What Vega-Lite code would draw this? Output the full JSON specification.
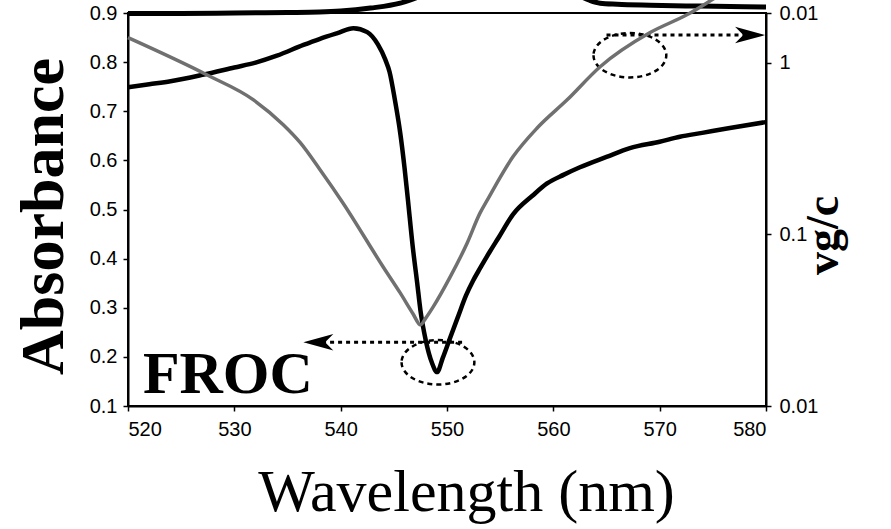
{
  "$schema": "https://vega.github.io/schema/vega-lite/v6.json",
  "width": 638,
  "height": 393,
  "autosize": {"type": "none"},
  "padding": {"left": 128, "top": 13, "right": 125, "bottom": 123},
  "background": "white",
  "config": {
    "view": {"stroke": "black", "strokeWidth": 2},
    "axis": {
      "domainColor": "black", "domainWidth": 2, "tickColor": "black", "tickWidth": 1.5, "tickSize": 5,
      "labelFont": "Liberation Sans", "labelFontSize": 20, "labelColor": "black",
      "titleFont": "Liberation Serif", "titleColor": "black", "grid": false
    }
  },
  "datasets": {
    "froc": [
      {"lam": 520, "abs": 0.749}, {"lam": 522, "abs": 0.755}, {"lam": 524, "abs": 0.761}, {"lam": 527, "abs": 0.774},
      {"lam": 530, "abs": 0.789}, {"lam": 532, "abs": 0.799}, {"lam": 534, "abs": 0.813}, {"lam": 536.5, "abs": 0.835},
      {"lam": 538, "abs": 0.847}, {"lam": 539.7, "abs": 0.859}, {"lam": 541.2, "abs": 0.869}, {"lam": 542.5, "abs": 0.861},
      {"lam": 543.5, "abs": 0.836}, {"lam": 544.2, "abs": 0.805}, {"lam": 544.6, "abs": 0.78}, {"lam": 545.1, "abs": 0.723},
      {"lam": 545.6, "abs": 0.656}, {"lam": 546.0, "abs": 0.586}, {"lam": 546.3, "abs": 0.525}, {"lam": 546.8, "abs": 0.42},
      {"lam": 547.2, "abs": 0.35}, {"lam": 547.5, "abs": 0.295}, {"lam": 548.0, "abs": 0.234}, {"lam": 548.6, "abs": 0.187},
      {"lam": 549.06, "abs": 0.169}, {"lam": 549.62, "abs": 0.199}, {"lam": 550.28, "abs": 0.238}, {"lam": 551.04, "abs": 0.282},
      {"lam": 551.79, "abs": 0.325}, {"lam": 552.45, "abs": 0.355}, {"lam": 553.1, "abs": 0.38}, {"lam": 554.05, "abs": 0.415},
      {"lam": 554.8, "abs": 0.441}, {"lam": 556.21, "abs": 0.49}, {"lam": 558.09, "abs": 0.529}, {"lam": 559.41, "abs": 0.553},
      {"lam": 561, "abs": 0.571}, {"lam": 562.5, "abs": 0.586}, {"lam": 565, "abs": 0.607}, {"lam": 567.2, "abs": 0.625},
      {"lam": 570, "abs": 0.638}, {"lam": 571.9, "abs": 0.648}, {"lam": 574, "abs": 0.656}, {"lam": 576.6, "abs": 0.666},
      {"lam": 580, "abs": 0.678}
    ],
    "top": [
      {"lam": 520, "abs": 0.899}, {"lam": 525, "abs": 0.899}, {"lam": 530, "abs": 0.9}, {"lam": 535, "abs": 0.901},
      {"lam": 538, "abs": 0.902}, {"lam": 540, "abs": 0.904}, {"lam": 542.8, "abs": 0.91}, {"lam": 545.6, "abs": 0.92},
      {"lam": 546.5, "abs": 0.926}, {"lam": 548, "abs": 0.94}, {"lam": 550, "abs": 0.97}, {"lam": 553, "abs": 1.0},
      {"lam": 556, "abs": 1.0}, {"lam": 559, "abs": 0.97}, {"lam": 562, "abs": 0.94}, {"lam": 563.4, "abs": 0.926},
      {"lam": 564.4, "abs": 0.92}, {"lam": 566, "abs": 0.918}, {"lam": 569.1, "abs": 0.916}, {"lam": 573.8, "abs": 0.914},
      {"lam": 580, "abs": 0.912}
    ],
    "vg": [
      {"lam": 520, "v": 1.40}, {"lam": 527.4, "v": 0.851}, {"lam": 531.8, "v": 0.608}, {"lam": 534.6, "v": 0.435},
      {"lam": 536.2, "v": 0.342}, {"lam": 538.06, "v": 0.238}, {"lam": 540.2, "v": 0.153}, {"lam": 544.0, "v": 0.0646},
      {"lam": 545.6, "v": 0.0456}, {"lam": 546.8, "v": 0.0345}, {"lam": 547.5, "v": 0.0297}, {"lam": 548.0, "v": 0.0325},
      {"lam": 548.7, "v": 0.0378}, {"lam": 550.3, "v": 0.0565}, {"lam": 551.9, "v": 0.0891},
      {"lam": 553.1, "v": 0.133}, {"lam": 553.8, "v": 0.159}, {"lam": 556.2, "v": 0.283}, {"lam": 558.5, "v": 0.418},
      {"lam": 561.3, "v": 0.608}, {"lam": 564.4, "v": 0.948}, {"lam": 569.1, "v": 1.50}, {"lam": 572.6, "v": 1.91},
      {"lam": 575.7, "v": 2.49}, {"lam": 580, "v": 3.48}
    ],
    "arrows": [
      {"lam": 537.5, "lam2": 551.5, "abs": 0.23},
      {"lam": 565.0, "lam2": 578.5, "abs": 0.855}
    ],
    "heads": [
      {"lam": 537.9, "abs": 0.23, "dir": "left"},
      {"lam": 578.5, "abs": 0.855, "dir": "right"}
    ],
    "ellipses": [
      {"lam": 549.15, "abs": 0.189},
      {"lam": 567.2, "abs": 0.814}
    ],
    "labels": [
      {"lam": 521.4, "abs": 0.126, "text": "FROC"}
    ]
  },
  "layer": [
    {
      "layer": [
        {
          "data": {"name": "top"},
          "mark": {"type": "line", "color": "black", "strokeWidth": 5, "clip": false, "interpolate": "monotone"},
          "encoding": {
            "x": {"field": "lam", "type": "quantitative", "scale": {"domain": [520, 580], "nice": false},
                  "axis": {"values": [520, 530, 540, 550, 560, 570, 580], "title": "Wavelength (nm)", "titleFontSize": 60, "titleFontWeight": "normal", "titlePadding": 24, "titleX": 338, "labelPadding": 8}},
            "y": {"field": "abs", "type": "quantitative", "scale": {"domain": [0.1, 0.9], "nice": false, "zero": false},
                  "axis": {"values": [0.1, 0.2, 0.3, 0.4, 0.5, 0.6, 0.7, 0.8, 0.9], "format": ".1f", "title": "Absorbance", "titleFontSize": 62, "titleFontWeight": "bold", "titlePadding": 14, "titleY": 203, "labelPadding": 6}}
          }
        },
        {
          "data": {"name": "froc"},
          "mark": {"type": "line", "color": "black", "strokeWidth": 4.5, "interpolate": "monotone"},
          "encoding": {
            "x": {"field": "lam", "type": "quantitative"},
            "y": {"field": "abs", "type": "quantitative"}
          }
        },
        {
          "data": {"name": "arrows"},
          "mark": {"type": "rule", "color": "black", "strokeWidth": 3, "strokeDash": [4, 4]},
          "encoding": {
            "x": {"field": "lam", "type": "quantitative"},
            "x2": {"field": "lam2"},
            "y": {"field": "abs", "type": "quantitative"}
          }
        },
        {
          "data": {"name": "heads"},
          "mark": {"type": "point", "filled": true, "color": "black", "opacity": 1, "size": 900},
          "encoding": {
            "x": {"field": "lam", "type": "quantitative"},
            "y": {"field": "abs", "type": "quantitative"},
            "shape": {"field": "dir", "type": "nominal", "legend": null,
                      "scale": {"domain": ["left", "right"], "range": ["M-1,0L1,-0.55L0.45,0L1,0.55Z", "M1,0L-1,-0.55L-0.45,0L-1,0.55Z"]}}
          }
        },
        {
          "data": {"name": "ellipses"},
          "mark": {"type": "point", "filled": false, "color": "black", "opacity": 1, "strokeWidth": 2.5, "strokeDash": [5, 4], "size": 5300,
                   "shape": "M-1,0A1,0.61,0,1,0,1,0A1,0.61,0,1,0,-1,0Z"},
          "encoding": {
            "x": {"field": "lam", "type": "quantitative"},
            "y": {"field": "abs", "type": "quantitative"}
          }
        },
        {
          "data": {"name": "labels"},
          "mark": {"type": "text", "font": "Liberation Serif", "fontWeight": "bold", "fontSize": 60, "align": "left", "baseline": "alphabetic", "color": "black"},
          "encoding": {
            "x": {"field": "lam", "type": "quantitative"},
            "y": {"field": "abs", "type": "quantitative"},
            "text": {"field": "text"}
          }
        }
      ]
    },
    {
      "data": {"name": "vg"},
      "mark": {"type": "line", "color": "#707070", "strokeWidth": 3.5, "clip": false, "interpolate": "monotone"},
      "encoding": {
        "x": {"field": "lam", "type": "quantitative"},
        "y": {"field": "v", "type": "quantitative",
              "scale": {"type": "log", "domain": [0.01, 1.95], "nice": false},
              "axis": {"orient": "right", "values": [0.01, 0.1, 1, 1.95],
                       "labelExpr": "datum.value > 1.5 ? '0.01' : (datum.value < 0.05 ? '0.01' : (datum.value < 0.5 ? '0.1' : '1'))",
                       "title": "vg/c", "titleFontSize": 46, "titleFontWeight": "bold", "titleAngle": 270, "titlePadding": 30, "titleY": 222, "labelPadding": 8}}
      }
    }
  ],
  "resolve": {"scale": {"y": "independent"}}
}
